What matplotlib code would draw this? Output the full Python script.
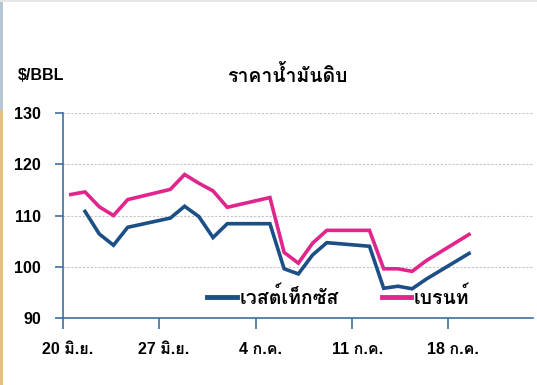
import matplotlib
matplotlib.use("Agg")
import matplotlib.pyplot as plt
import matplotlib.transforms as mtransforms
from matplotlib import font_manager
from matplotlib.ft2font import FT2Font

# trading days, counted from 20 June
brent_days = [0, 1, 2, 3, 4, 7, 8, 9, 10, 11, 14, 15, 16, 17, 18, 21, 22, 23, 24, 25, 28]
brent = [114.1, 114.6, 111.7, 110.0, 113.1, 115.1, 118.0, 116.3, 114.8, 111.6, 113.5,
         102.8, 100.7, 104.6, 107.1, 107.1, 99.6, 99.6, 99.1, 101.2, 106.3]

wti_days = [1, 2, 3, 4, 7, 8, 9, 10, 11, 14, 15, 16, 17, 18, 21, 22, 23, 24, 25, 28]
wti = [110.8, 106.4, 104.2, 107.7, 109.5, 111.8, 109.8, 105.7, 108.4, 108.4,
       99.6, 98.6, 102.3, 104.7, 104.0, 95.8, 96.2, 95.7, 97.6, 102.6]

tick_days = [-0.55, 6.2, 13.0, 19.8, 26.55]
tick_labels = ['20 มิ.ย.', '27 มิ.ย.', '4 ก.ค.', '11 ก.ค.', '18 ก.ค.']
y_ticks = [90, 100, 110, 120, 130]

BLUE = '#1d4f87'
PINK = '#e0258c'
AXIS = '#3d6f9f'


def find_thai_font():
    """Look for an installed font that has Thai glyphs"""
    for f in font_manager.fontManager.ttflist:
        try:
            cmap = FT2Font(f.fname).get_charmap()
        except Exception:
            continue
        if 0x0E32 in cmap and 0x0E19 in cmap:
            return f.name
    return 'DejaVu Sans'


thai = find_thai_font()
plt.rcParams['font.family'] = ['Liberation Sans', thai, 'DejaVu Sans']
plt.rcParams['font.weight'] = 'bold'

fig = plt.figure(figsize=(5.37, 3.85), dpi=100)
ax = fig.add_axes([63 / 537, 67 / 385, 470 / 537, 205 / 385])

ax.plot(wti_days, wti, color=BLUE, linewidth=2.6, label='เวสต์เท็กซัส', solid_joinstyle='miter')
ax.plot(brent_days, brent, color=PINK, linewidth=2.6, label='เบรนท์', solid_joinstyle='miter')

ax.set_xlim(-0.55, 32.5)
ax.set_ylim(90, 130)
ax.set_yticks(y_ticks)
ax.set_xticks(tick_days)
ax.set_xticklabels(tick_labels)

for s in ['top', 'right']:
    ax.spines[s].set_visible(False)
for s in ['left', 'bottom']:
    ax.spines[s].set_color(AXIS)
    ax.spines[s].set_linewidth(1.2)

ax.yaxis.grid(True, color='#c4c4c4', linestyle=(0, (2, 1.5)), linewidth=0.8)
ax.set_axisbelow(True)
ax.tick_params(axis='y', length=6, width=1.2, color=AXIS, labelsize=11.5, pad=10)
ax.tick_params(axis='x', length=8, width=1.2, color=AXIS, labelsize=11.5, pad=9)

# labels sit a little to the right of the tick marks
shift = mtransforms.ScaledTranslation(5 / 100, 0, fig.dpi_scale_trans)
for lbl in ax.get_xticklabels():
    lbl.set_transform(lbl.get_transform() + shift)

leg = ax.legend(loc='center left', bbox_to_anchor=(0.27, 0.1), ncol=2, frameon=False,
                fontsize=14, handlelength=1.5, handletextpad=0.15, columnspacing=2.2)
for line in leg.get_lines():
    line.set_linewidth(3.5)

fig.text(18 / 537, 1 - 75 / 385, '$/BBL', fontsize=11.5, fontweight='bold', va='center')
fig.text(287 / 537, 1 - 76 / 385, 'ราคาน้ำมันดิบ', fontsize=14, fontweight='bold',
         ha='center', va='center')

# thin frame strips on the left and top edges
fig.add_artist(plt.Rectangle((0, 0), 2.5 / 537, 1 - 110 / 385, transform=fig.transFigure,
                             color='#e2c27a', linewidth=0))
fig.add_artist(plt.Rectangle((0, 1 - 110 / 385), 2.5 / 537, 110 / 385, transform=fig.transFigure,
                             color='#b6c6d2', linewidth=0))
fig.add_artist(plt.Rectangle((0, 1 - 2 / 385), 1, 2 / 385, transform=fig.transFigure,
                             color='#e6e6e6', linewidth=0))

fig.savefig('out.png', dpi=100)
